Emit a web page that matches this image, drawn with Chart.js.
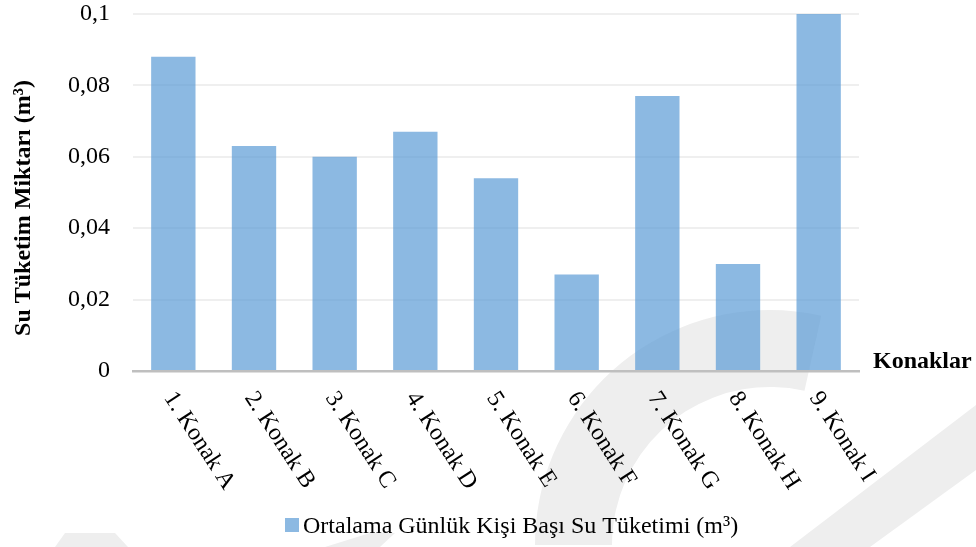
<!DOCTYPE html>
<html>
<head>
<meta charset="utf-8">
<script src="https://cdn.jsdelivr.net/npm/chart.js@4"></script>
<style>
  html, body { margin: 0; padding: 0; background: #ffffff; }
  #wrap { width: 976px; height: 547px; position: relative; }
</style>
</head>
<body>
<div id="wrap"><canvas id="c" width="976" height="547"></canvas></div>
<script>
// ---- data ----
const categories = ['1. Konak A', '2. Konak B', '3. Konak C', '4. Konak D', '5. Konak E',
                    '6. Konak F', '7. Konak G', '8. Konak H', '9. Konak I'];
const consumption = [0.088, 0.063, 0.060, 0.067, 0.054, 0.027, 0.077, 0.030, 0.100];
const yTickLabels = ['0', '0,02', '0,04', '0,06', '0,08', '0,1'];
const seriesName = 'Ortalama Günlük Kişi Başı Su Tüketimi (m³)';
const yTitle = 'Su Tüketim Miktarı (m³)';
const xTitle = 'Konaklar';

const SERIF = '"Liberation Serif", "Times New Roman", serif';
const BAR = 'rgba(91,155,213,0.7)';

const watermark = {
  id: 'watermark',
  beforeDraw(chart) {
    const ctx = chart.ctx;
    ctx.save();
    ctx.fillStyle = '#EEEEEE';
    // arc band
    ctx.beginPath();
    ctx.arc(770, 545, 235, Math.PI, Math.PI * 1.57, false);
    ctx.arc(770, 545, 158, Math.PI * 1.57, Math.PI, true);
    ctx.closePath();
    ctx.fill();
    // lower right band
    ctx.beginPath();
    ctx.moveTo(790, 547); ctx.lineTo(976, 405); ctx.lineTo(976, 470); ctx.lineTo(870, 547);
    ctx.closePath(); ctx.fill();
    // bottom wedges
    ctx.beginPath();
    ctx.moveTo(55, 547); ctx.lineTo(65, 533); ctx.lineTo(115, 533); ctx.lineTo(128, 547);
    ctx.closePath(); ctx.fill();
    ctx.beginPath();
    ctx.moveTo(325, 547); ctx.lineTo(370, 533); ctx.lineTo(395, 533); ctx.lineTo(380, 547);
    ctx.closePath(); ctx.fill();
    ctx.restore();
  }
};

const texts = {
  id: 'texts',
  afterDraw(chart) {
    const ctx = chart.ctx;
    const xs = chart.scales.x;
    ctx.save();
    ctx.fillStyle = '#000';
    // rotated category labels
    ctx.font = '24px ' + SERIF;
    ctx.textAlign = 'left';
    ctx.textBaseline = 'middle';
    categories.forEach((lab, i) => {
      const x = xs.getPixelForValue(i);
      ctx.save();
      ctx.translate(x - 4.5, 394);
      ctx.rotate(57 * Math.PI / 180);
      ctx.fillText(lab, 0, 0);
      ctx.restore();
    });
    // x title
    ctx.font = 'bold 24px ' + SERIF;
    ctx.textBaseline = 'alphabetic';
    ctx.textAlign = 'left';
    ctx.fillText(xTitle, 873, 368);
    // y title
    ctx.save();
    ctx.translate(30, 208);
    ctx.rotate(-Math.PI / 2);
    ctx.textAlign = 'center';
    ctx.fillText(yTitle, 0, 0);
    ctx.restore();
    // legend
    ctx.fillStyle = BAR;
    ctx.fillRect(285, 518, 14, 14);
    ctx.fillStyle = '#000';
    ctx.font = '24px ' + SERIF;
    ctx.textAlign = 'left';
    ctx.fillText(seriesName, 303, 533);
    ctx.restore();
  }
};

new Chart(document.getElementById('c'), {
  type: 'bar',
  data: {
    labels: categories,
    datasets: [{
      label: seriesName,
      data: consumption,
      backgroundColor: BAR,
      borderWidth: 0,
      barPercentage: 0.55,
      categoryPercentage: 1.0
    }]
  },
  options: {
    responsive: false,
    animation: false,
    devicePixelRatio: 1,
    layout: { padding: { left: 0, right: 117, top: 14, bottom: 0 } },
    plugins: { legend: { display: false }, tooltip: { enabled: false }, title: { display: false } },
    scales: {
      x: {
        offset: true,
        grid: { display: false, drawTicks: false },
        border: { display: true, color: '#BFBFBF', width: 2.5 },
        ticks: { display: false },
        afterFit: s => { s.height = 176; }
      },
      y: {
        min: 0, max: 0.1,
        ticks: {
          stepSize: 0.02,
          padding: 23,
          color: '#000',
          font: { family: SERIF, size: 24 },
          callback: (v, i) => yTickLabels[i]
        },
        grid: { color: '#EFEFEF', lineWidth: 2, drawTicks: false },
        border: { display: false },
        afterFit: s => { s.width = 133; s.paddingTop = 0; s.paddingBottom = 0; }
      }
    }
  },
  plugins: [watermark, texts]
});
</script>
</body>
</html>
